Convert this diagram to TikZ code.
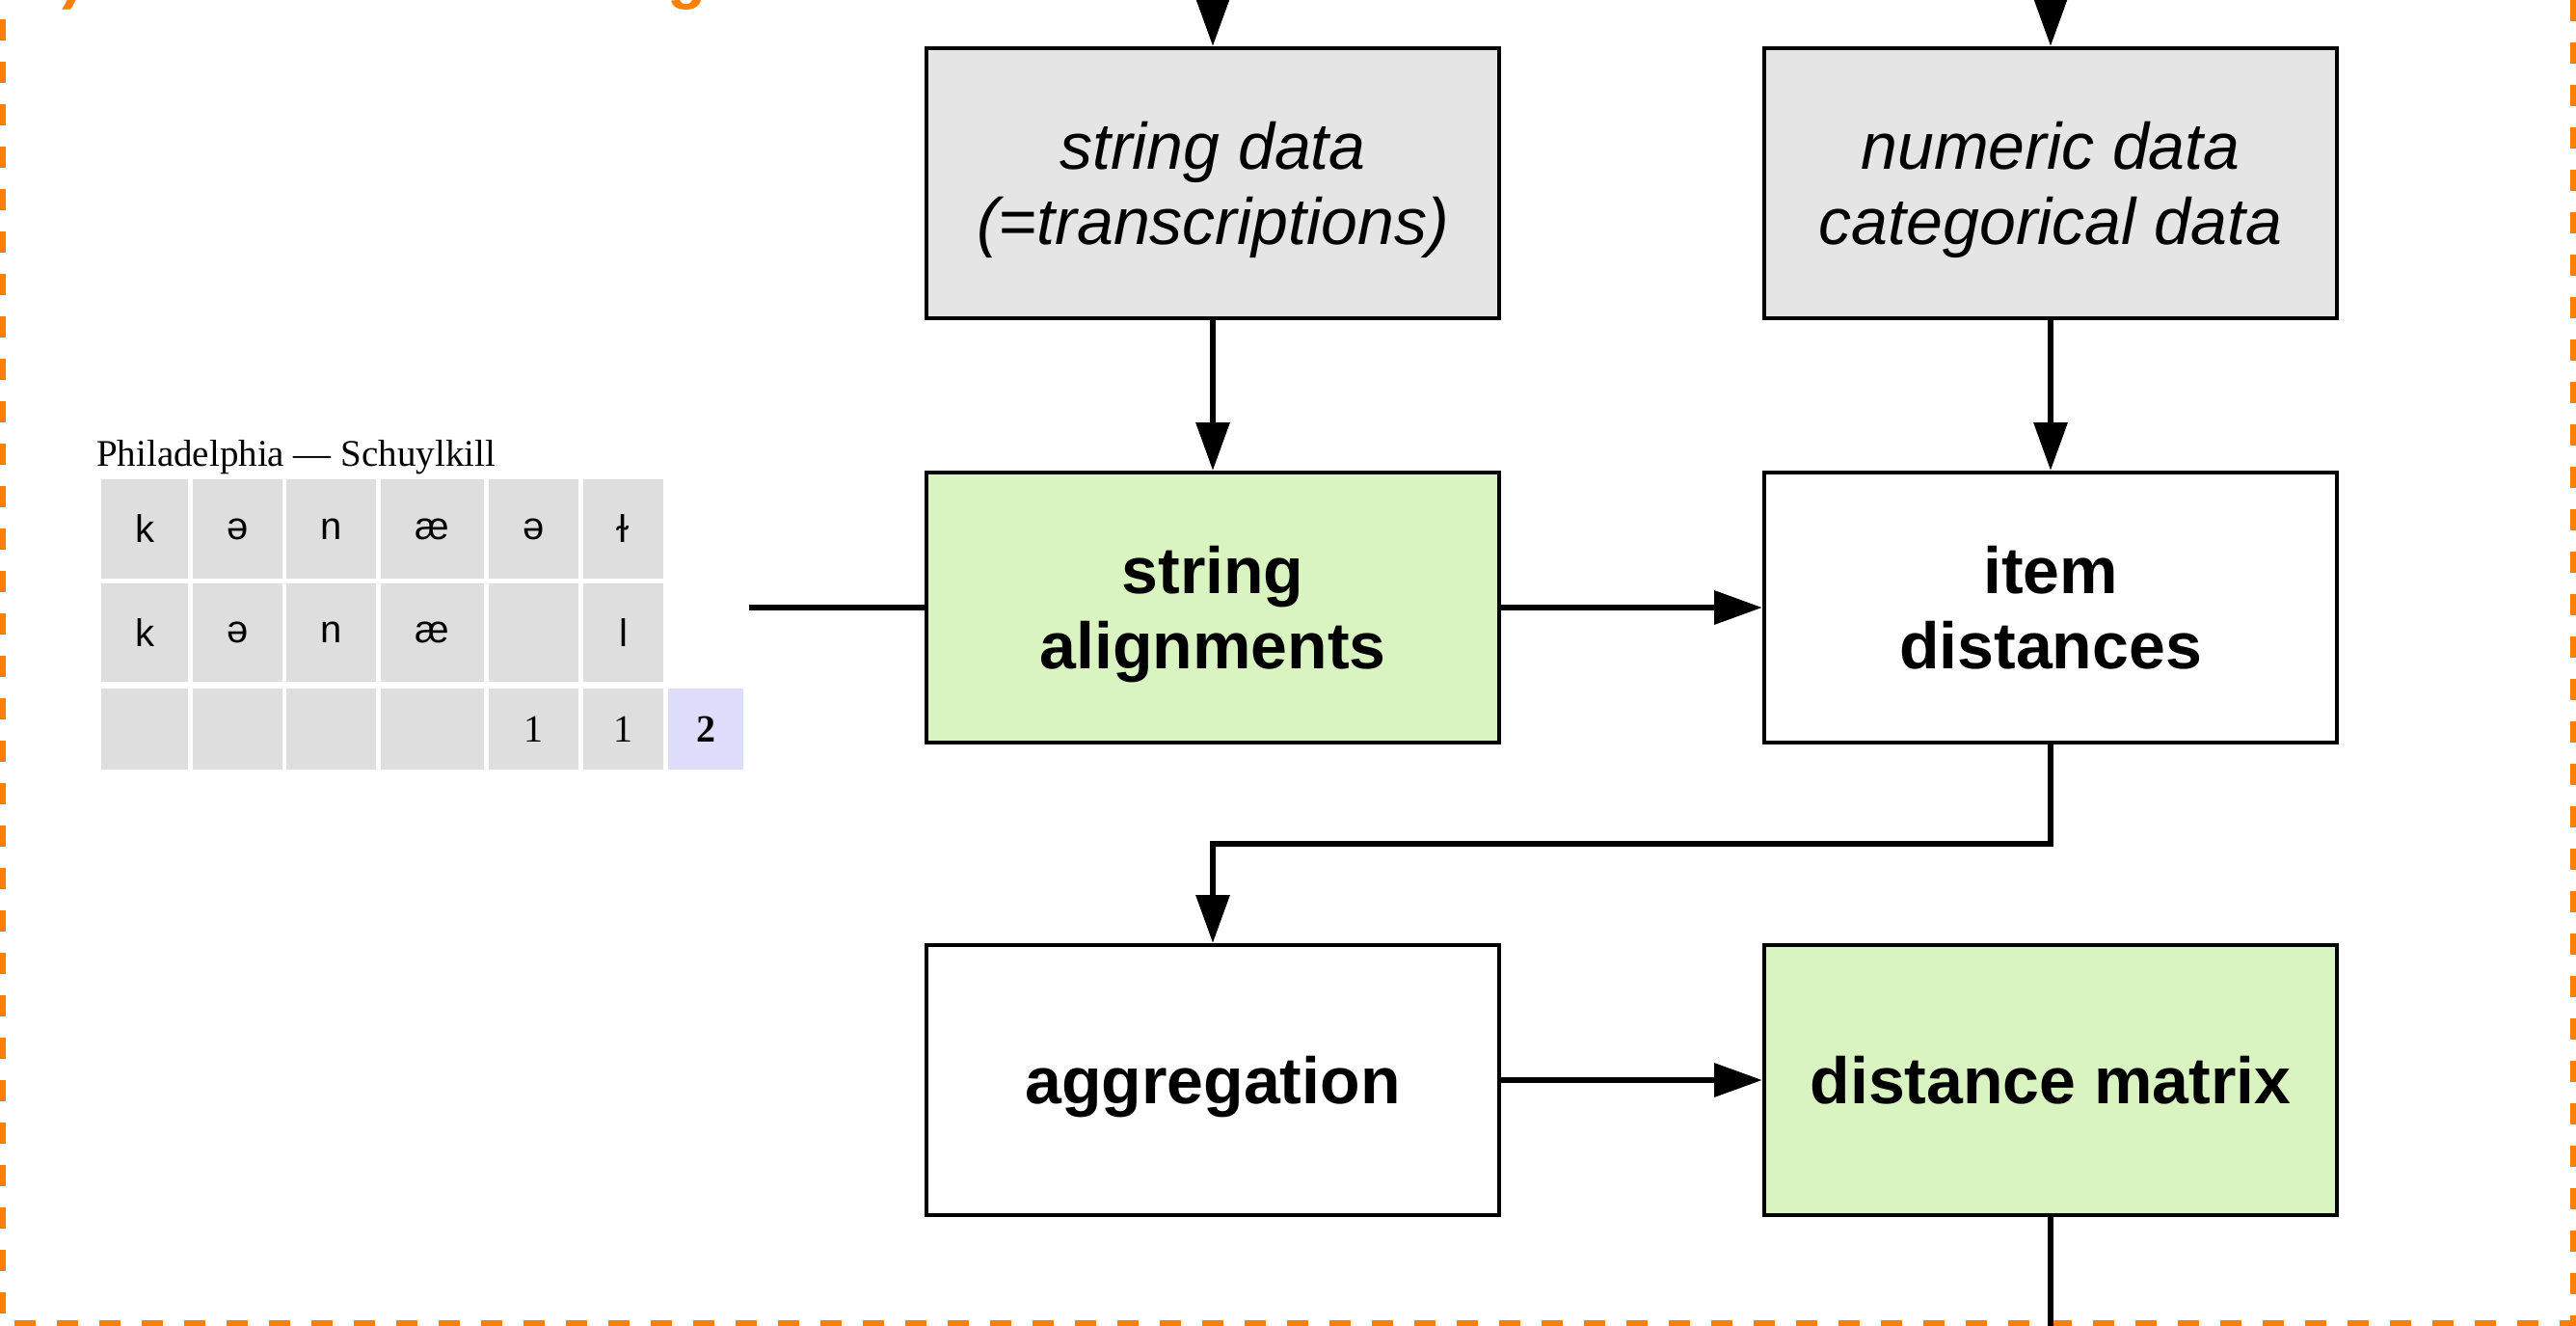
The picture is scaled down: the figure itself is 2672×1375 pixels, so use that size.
\documentclass[tikz,border=0pt]{standalone}
\usepackage{fontspec}
\setmainfont{Liberation Sans}
\newfontfamily\tnr{Liberation Serif}
\usetikzlibrary{arrows.meta}
\definecolor{boxgray}{RGB}{229,229,229}
\definecolor{boxgreen}{RGB}{217,244,192}
\definecolor{cellgray}{RGB}{222,222,222}
\definecolor{cellblue}{RGB}{222,222,252}
\definecolor{frameorange}{RGB}{255,128,0}
\newcommand{\nodp}[1]{\raisebox{0pt}[\height][0pt]{#1}}
\begin{document}
\begin{tikzpicture}[x=1pt,y=-1pt,
  box/.style={draw=black, line width=4pt, minimum width=594pt, minimum height=280pt,
    inner sep=0pt, align=center, font=\fontsize{68}{78}\selectfont},
  itbox/.style={box, fill=boxgray, font=\itshape\fontsize{68}{78}\selectfont},
  bdbox/.style={box, font=\bfseries\fontsize{68}{78}\selectfont},
  arr/.style={line width=6.5pt, -{Triangle[length=50pt,width=34pt]}},
  plain/.style={line width=6.5pt},
  cell/.style={fill=cellgray, inner sep=0pt, font=\fontsize{40}{46}\selectfont},
  numcell/.style={fill=cellgray, inner sep=0pt, font=\tnr\fontsize{40}{46}\selectfont},
  frame/.style={draw=frameorange, line width=5.5pt, dash pattern=on 22pt off 22pt}
]
\useasboundingbox (0,0) rectangle (2672,1375);

% orange frame and (cut-off) title
\draw[frame] (3,-200) -- (3,1372) -- (2669,1372) -- (2669,-200);
\node[anchor=base west, inner sep=0pt, text=frameorange,
  font=\bfseries\fontsize{66}{76}\selectfont] (title) at (28,-3) {2) Distance measuring};

% boxes
\node[itbox] (sd) at (1258,190) {string data\\\nodp{(=transcriptions)}};
\node[itbox] (nd) at (2127,190) {numeric data\\\nodp{categorical data}};
\node[bdbox, fill=boxgreen] (sa) at (1258,630) {string\\\nodp{alignments}};
\node[bdbox, fill=white] (id) at (2127,630) {item\\\nodp{distances}};
\node[bdbox, fill=white] (ag) at (1258,1120) {\nodp{aggregation}};
\node[bdbox, fill=boxgreen] (dm) at (2127,1120) {\nodp{distance matrix}};

% table
\node[anchor=base west, inner sep=0pt, font=\tnr\fontsize{39}{45}\selectfont] (tabtitle) at (100,483) {Philadelphia — Schuylkill};
\foreach \xa/\xb/\t [count=\i] in {105/195/k, 200/293/ə, 297/390/n, 395/502/æ, 507/600/ə, 605/688/ɫ}
  \node[cell, minimum width={\xb-\xa}, minimum height=103] (ra\i) at ({(\xa+\xb)/2},548.5) {\t};
\foreach \xa/\xb/\t [count=\i] in {105/195/k, 200/293/ə, 297/390/n, 395/502/æ, 507/600/{}, 605/688/l}
  \node[cell, minimum width={\xb-\xa}, minimum height=102] (rb\i) at ({(\xa+\xb)/2},656) {\t};
\foreach \xa/\xb/\t [count=\i] in {105/195/{}, 200/293/{}, 297/390/{}, 395/502/{}, 507/600/1, 605/688/1}
  \node[numcell, minimum width={\xb-\xa}, minimum height=84] (rc\i) at ({(\xa+\xb)/2},756) {\t};
\node[numcell, fill=cellblue, minimum width=78, minimum height=84, font=\tnr\bfseries\fontsize{40}{46}\selectfont] (sum) at (732,756) {2};

% connectors
\coordinate (t1) at (1258,-80);
\coordinate (t2) at (2127,-80);
\coordinate (tl) at (777,630);
\coordinate (mid) at (1700,875);
\coordinate (b6) at (2127,1460);
\draw[arr] (t1) -- (sd);
\draw[arr] (t2) -- (nd);
\draw[arr] (sd) -- (sa);
\draw[arr] (nd) -- (id);
\draw[plain] (tl) -- (sa);
\draw[arr] (sa) -- (id);
\draw[arr] (id.south) -- (id.south |- mid) -- (ag.north |- mid) -- (ag.north);
\draw[arr] (ag) -- (dm);
\draw[plain] (dm) -- (b6);
\end{tikzpicture}
\end{document}
